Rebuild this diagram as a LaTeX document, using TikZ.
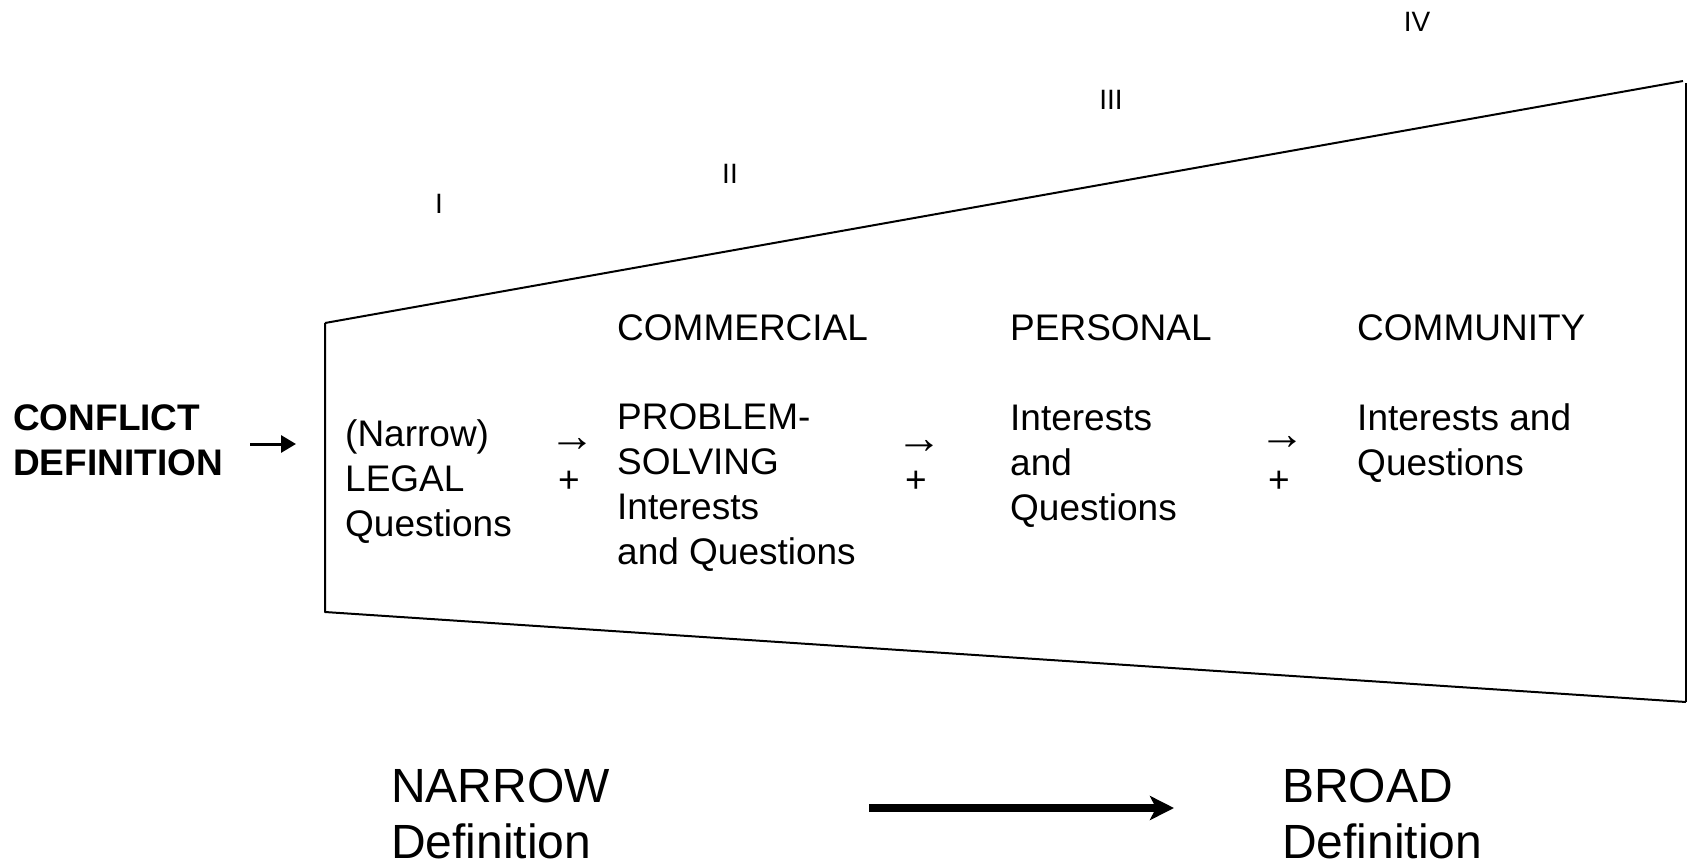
\documentclass[tikz,border=0pt]{standalone}
\usepackage{fontspec}
\setmainfont{Liberation Sans}
\usetikzlibrary{arrows.meta}
\begin{document}
\begin{tikzpicture}[x=1pt,y=-1pt,
  txt/.style={inner sep=0pt, anchor=base west, align=left,
    font=\fontsize{37}{45}\selectfont},
  head/.style={txt, font=\fontsize{37}{44.5}\selectfont\bfseries},
  stage/.style={inner sep=0pt, anchor=base, font=\fontsize{28}{32}\selectfont},
  sym/.style={inner sep=0pt, anchor=center, font=\fontsize{37}{45}\selectfont},
  stepsym/.style={inner sep=0pt, anchor=center, font=\fontsize{46}{50}\selectfont},
  big/.style={inner sep=0pt, anchor=base west, align=left,
    font=\fontsize{48}{56}\selectfont},
  frame/.style={line width=2pt, line join=round}]
\useasboundingbox (0,0) rectangle (1692,863);

% widening funnel
\coordinate (tl) at (325,323);
\coordinate (tr) at (1683,81);
\coordinate (br) at (1686,702);
\coordinate (bl) at (325,612);
\draw[frame] (tl) -- (tr);
\draw[frame] (1686,83) -- (br);
\draw[frame] (tl) -- (bl) -- (br);

% stage numerals
\node[stage] (s1) at (439,213) {I};
\node[stage] (s2) at (730,183) {II};
\node[stage] (s3) at (1111,109) {III};
\node[stage] (s4) at (1417,31) {IV};

% entry label (base anchor sits on the last line)
\node[head] (cd) at (13,475) {CONFLICT\\DEFINITION};
\coordinate (cdin) at (250,444);
\draw[line width=3pt, -{Triangle[length=15pt,width=17pt]}] (cdin) -- (296,444);

% columns
\node[txt] (c1) at (345,536) {(Narrow)\\LEGAL\\Questions};
\node[txt] (h2) at (617,340) {COMMERCIAL};
\node[txt] (c2) at (617,564) {PROBLEM-\\SOLVING\\Interests\\and Questions};
\node[txt] (h3) at (1010,340) {PERSONAL};
\node[txt] (c3) at (1010,520) {Interests\\and\\Questions};
\node[txt] (h4) at (1357,340) {COMMUNITY};
\node[txt] (c4) at (1357,475) {Interests and\\Questions};

% step markers between columns
\node[stepsym] (a1) at (572,445) {→};
\node[sym] (p1) at (569,482) {+};
\node[stepsym] (a2) at (919,447) {→};
\node[sym] (p2) at (916,482) {+};
\node[stepsym] (a3) at (1282,443) {→};
\node[sym] (p3) at (1279,482) {+};

% range along the bottom
\node[big] (nar) at (391,858) {NARROW\\Definition};
\node[big] (bro) at (1282,858) {BROAD\\Definition};
\coordinate (ra) at (869,808);
\coordinate (rb) at (1174,808);
\draw[line width=8pt, -{Stealth[length=24pt,width=24pt,inset=6pt]}] (ra) -- (rb);
\end{tikzpicture}
\end{document}
